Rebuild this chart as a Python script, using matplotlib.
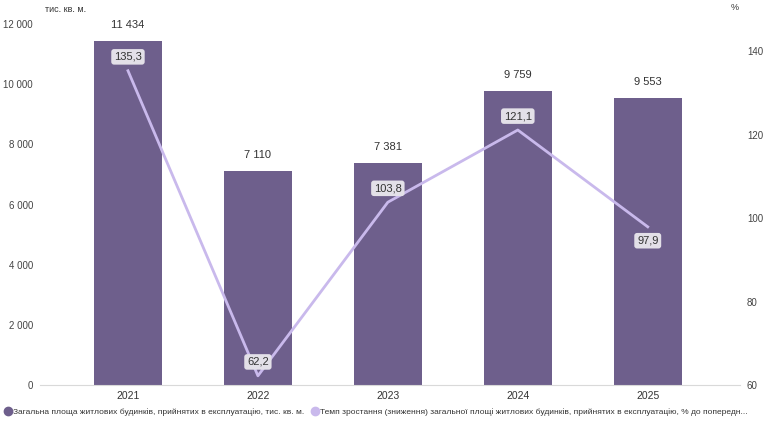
import matplotlib
matplotlib.use("Agg")
import matplotlib.pyplot as plt
from matplotlib.lines import Line2D
import numpy as np

years = ["2021", "2022", "2023", "2024", "2025"]
area = [11434, 7110, 7381, 9759, 9553]
growth = [135.3, 62.2, 103.8, 121.1, 97.9]
area_lbl = ["11 434", "7 110", "7 381", "9 759", "9 553"]
growth_lbl = ["135,3", "62,2", "103,8", "121,1", "97,9"]
left_ticks = [0, 2000, 4000, 6000, 8000, 10000, 12000]
left_tick_lbl = ["0", "2 000", "4 000", "6 000", "8 000", "10 000", "12 000"]
right_ticks = [60, 80, 100, 120, 140]

bar_c = "#6e5f8c"
line_c = "#c9b9ec"
txt_c = "#333333"

plt.rcParams['font.family'] = ['Liberation Sans', 'DejaVu Sans']

fig = plt.figure(figsize=(7.68, 4.26), dpi=100)
ax = fig.add_axes([40/768, 1-385/426, 700/768, 361/426])
x = np.arange(len(years))
ax.bar(x, area, width=0.52, color=bar_c, zorder=2)
ax.set_xlim(-0.677, 4.71)
ax.set_ylim(0, 12000)
ax.set_yticks(left_ticks)
ax.set_yticklabels(left_tick_lbl)
ax.set_xticks(x)
ax.set_xticklabels(years)
for s in ["top", "right", "left"]:
    ax.spines[s].set_visible(False)
ax.spines["bottom"].set_color("#d9d9d9")
ax.tick_params(axis="y", length=0, labelsize=7, labelcolor="#444444", pad=5)
ax.tick_params(axis="x", length=0, labelsize=7.5, labelcolor=txt_c, pad=4)
for xi, v, l in zip(x, area, area_lbl):
    ax.annotate(l, (xi, v), xytext=(0, 8), textcoords="offset points",
                ha="center", va="bottom", fontsize=8, color=txt_c)

ax2 = ax.twinx()
ax2.set_ylim(60, 146.5)
ax2.set_yticks(right_ticks)
for s in ["top", "right", "left", "bottom"]:
    ax2.spines[s].set_visible(False)
ax2.tick_params(axis="y", length=0, labelsize=7, labelcolor="#444444", pad=5)
ax2.plot(x, growth, color=line_c, lw=2, zorder=3)
offs = [10, 10, 10, 10, -10]
for xi, v, l, o in zip(x, growth, growth_lbl, offs):
    ax2.annotate(l, (xi, v), xytext=(0, o), textcoords="offset points",
                 ha="center", va="center", fontsize=8, color=txt_c,
                 bbox=dict(boxstyle="round,pad=0.25", fc="#e3e0e8", ec="none"))

fig.text(45/768, 1-10/426, "тис. кв. м.", fontsize=6.5, color=txt_c, va="center")
fig.text(735/768, 1-8/426, "%", fontsize=6.5, color=txt_c, va="center", ha="center")

handles = [
    Line2D([], [], marker="o", ls="", color=bar_c, markersize=6),
    Line2D([], [], marker="o", ls="", color=line_c, markersize=6),
]
labels = [
    "Загальна площа житлових будинків, прийнятих в експлуатацію, тис. кв. м.",
    "Темп зростання (зниження) загальної площі житлових будинків, прийнятих в експлуатацію, % до попередн...",
]
fig.legend(handles, labels, loc="center left", bbox_to_anchor=(0, 1-412/426),
           ncol=2, frameon=False, fontsize=6, handletextpad=0.1,
           columnspacing=0.8, borderpad=0, handlelength=1.0, labelcolor=txt_c)

fig.savefig("out.png", dpi=100)
